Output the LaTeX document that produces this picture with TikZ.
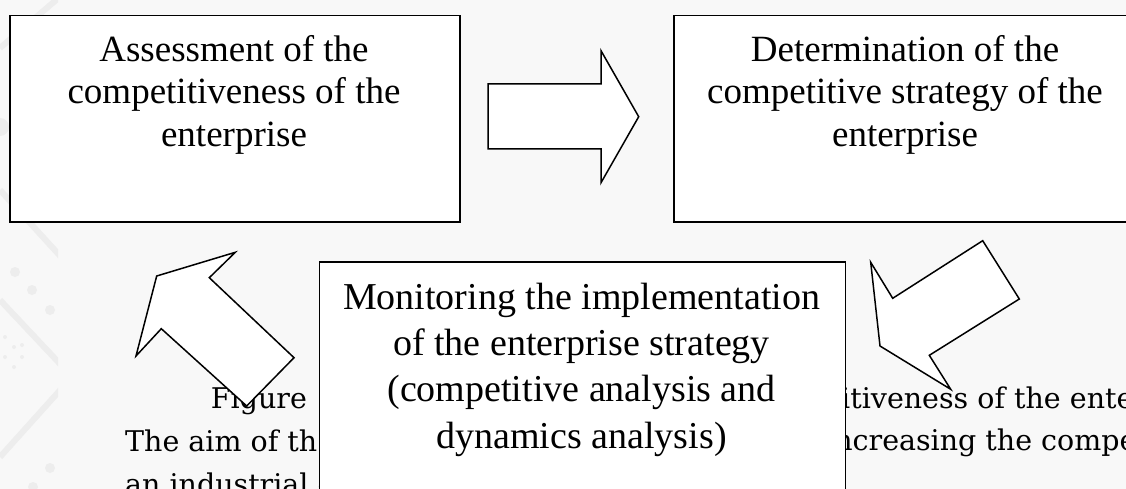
\documentclass[tikz,border=0pt]{standalone}
\usepackage{fontspec}
\setmainfont{Liberation Serif}
\newfontfamily\bgfont{DejaVu Serif}
\definecolor{bg}{HTML}{F8F8F8}
\definecolor{wm}{HTML}{EDEDED}
\begin{document}
\begin{tikzpicture}[x=1pt,y=-1pt,
  box/.style={draw=black,line width=1.8pt,fill=white,inner sep=0pt},
  btext/.style={inner sep=0pt,align=center,anchor=north,font=\fontsize{37}{42.5}\selectfont},
  mtext/.style={inner sep=0pt,align=center,anchor=north,font=\fontsize{38}{46.2}\selectfont},
  blockarrow/.style={draw=black,line width=1.5pt,fill=white,line join=miter},
  bgtext/.style={inner sep=0pt,anchor=base west,font=\bgfont\fontsize{28.5}{43}\selectfont},
  wmline/.style={draw=wm,line width=6pt},
  wmdot/.style={fill=wm},
]
\path[use as bounding box,fill=bg] (0,0) rectangle (1126,489);
% watermark on the left edge
\begin{scope}
\clip (0,0) rectangle (58,489);
\draw[wmline] (62,-5) -- (0,48);
\fill[wm] (0,127) circle (9);
\draw[wmline] (0,190) -- (62,258);
\fill[wmdot] (15,272) circle (5) (32,290) circle (5) (50,310) circle (5);
\draw[wmline] (0,300) -- (62,366);
\fill[wmdot] (5,337) circle (2) (14,347) circle (2) (22,357) circle (2)
             (5,357) circle (2) (14,367) circle (2) (22,345) circle (2);
\draw[wmline] (62,388) -- (0,457);
\fill[wmdot] (50,468) circle (5) (33,487) circle (5);
\end{scope}
\clip (0,0) rectangle (1126,489);
% background text (partly hidden)
\node[bgtext] (fig) at (210.7,408) {Figure 1};
\node[bgtext] (aim) at (125,451) {The aim of th};
\node[bgtext] (ind) at (125,494) {an industrial e};
\node[bgtext] (compet) at (841,408) {itiveness of the enter};
\node[bgtext] (incr) at (825,450) {increasing the compe};
% block arrows
\filldraw[blockarrow] (488,84) -- (601,84) -- (601,50.7) -- (638.7,116.7)
  -- (601,182.7) -- (601,149) -- (488,149) -- cycle;
\filldraw[blockarrow] (982.7,240.7) -- (1019.3,299) -- (929.3,355.3) -- (950.7,389.3)
  -- (880,346) -- (870.7,262.3) -- (892.7,298.3) -- cycle;
\filldraw[blockarrow] (294,357.7) -- (209.3,277.7) -- (235.3,252.3) -- (156.7,276)
  -- (136,356) -- (161.3,328.7) -- (246.7,406) -- cycle;
% boxes
\node[box,anchor=north west,minimum width=449.4pt,minimum height=206pt] (assess) at (9.3,14.7) {};
\node[box,anchor=north west,minimum width=466.7pt,minimum height=206pt] (determ) at (673.3,14.7) {};
\node[box,anchor=north west,minimum width=526pt,minimum height=240pt] (monit) at (318.6,261) {};
\node[btext] (assesst) at (234,34.9) {Assessment of the\\competitiveness of the\\enterprise};
\node[btext] (determt) at (905,34.9) {Determination of the\\competitive strategy of the\\enterprise};
\node[mtext] (monitt) at (581.6,283) {Monitoring the implementation\\of the enterprise strategy\\(competitive analysis and\\dynamics analysis)};
\end{tikzpicture}
\end{document}
